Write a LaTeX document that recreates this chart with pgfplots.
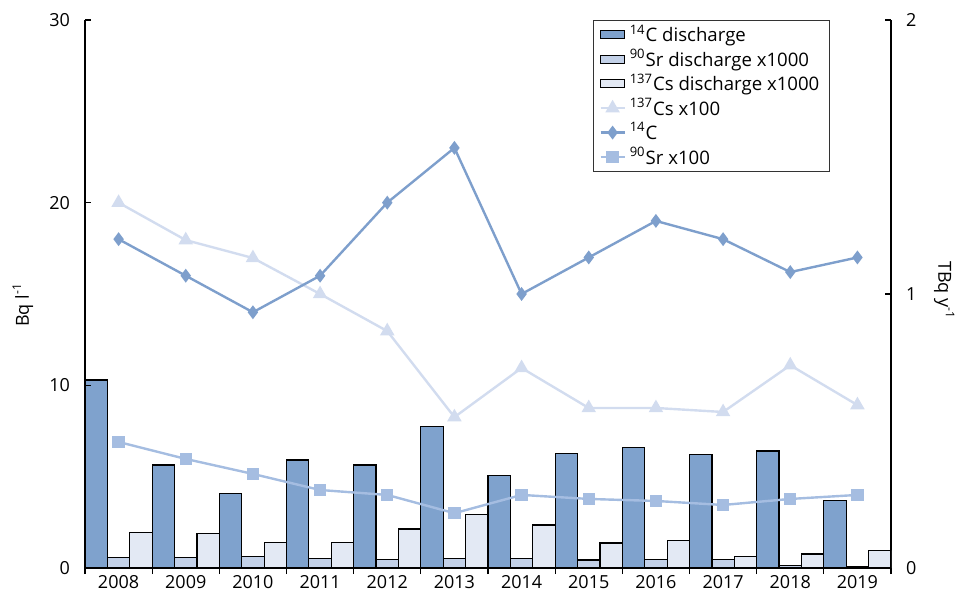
\documentclass[border=0pt]{standalone}
\usepackage{pgfplots}
\pgfplotsset{compat=1.18}
\usepackage{fontspec}
\setmainfont{Open Sans}

\definecolor{barC}{HTML}{7FA2CD}
\definecolor{barSr}{HTML}{C3D1E8}
\definecolor{barCs}{HTML}{E3E9F4}
\definecolor{lnC}{HTML}{7E9FCC}
\definecolor{lnSr}{HTML}{A5BDE1}
\definecolor{lnCs}{HTML}{D2DCEF}

\begin{document}
\begin{tikzpicture}
\pgfplotsset{
  every axis/.append style={
    scale only axis, width=403pt, height=274pt,
    xmin=-0.5, xmax=11.5,
    font=\fontsize{9}{11}\selectfont,
    /pgf/number format/assume math mode=true,
    axis line style={line width=0.6pt},
    every tick/.style={black, line width=0.6pt},
  },
}

% x axis only
\begin{axis}[
  hide y axis, ymin=0, ymax=1,
  axis x line*=bottom,
  tick align=outside, major tick length=3pt,
  xtick={-0.5,0.5,...,11.5}, xticklabels={},
  extra x ticks={0,1,2,3,4,5,6,7,8,9,10,11},
  extra x tick labels={2008,2009,2010,2011,2012,2013,2014,2015,2016,2017,2018,2019},
  extra x tick style={major tick length=0pt},
]
\addplot[draw=none] coordinates {(0,0)};
\end{axis}

% discharges, TBq per year (right axis)
\begin{axis}[
  hide x axis,
  axis y line*=right,
  ymin=0, ymax=2, ytick={0,1,2},
  tick align=inside, major tick length=3pt,
  yticklabel style={xshift=4pt},
  ylabel={TBq y\textsuperscript{-1}},
  ylabel style={at={(axis description cs:1.066,0.507)}, anchor=center, rotate=180},
]
\addplot[ybar, bar width=0.3333, bar shift=-0.3333, fill=barC, draw=black, line width=0.6pt]
  coordinates {(0,0.686) (1,0.376) (2,0.273) (3,0.394) (4,0.376) (5,0.516)
               (6,0.338) (7,0.419) (8,0.441) (9,0.414) (10,0.427) (11,0.246)};
\addplot[ybar, bar width=0.3333, bar shift=0, fill=barSr, draw=black, line width=0.6pt]
  coordinates {(0,0.038) (1,0.038) (2,0.041) (3,0.034) (4,0.032) (5,0.036)
               (6,0.034) (7,0.029) (8,0.030) (9,0.032) (10,0.010) (11,0.004)};
\addplot[ybar, bar width=0.3333, bar shift=0.3333, fill=barCs, draw=black, line width=0.6pt]
  coordinates {(0,0.131) (1,0.125) (2,0.093) (3,0.094) (4,0.142) (5,0.196)
               (6,0.157) (7,0.091) (8,0.101) (9,0.041) (10,0.051) (11,0.064)};
\end{axis}

% concentrations, Bq per litre (left axis)
\begin{axis}[
  hide x axis,
  axis y line*=left,
  ymin=0, ymax=30, ytick={0,10,20,30},
  tick align=inside, major tick length=3pt,
  yticklabel style={xshift=-4pt},
  ylabel={Bq l\textsuperscript{-1}},
  ylabel style={at={(axis description cs:-0.077,0.48)}, anchor=center},
  legend style={at={(rel axis cs:0.63,1)}, anchor=north west,
    draw=black!80, line width=0.6pt, font=\fontsize{9.3}{10}\selectfont,
    row sep=0pt, inner xsep=3pt, inner ysep=1pt,
    nodes={inner ysep=1.1pt}},
  legend cell align=left,
  legend image code/.code={
    \draw[mark repeat=2, mark phase=2, #1] plot coordinates {(0pt,0pt) (6pt,0pt) (12pt,0pt)};},
]
\addlegendimage{legend image code/.code={\draw[fill=barC, draw=black, line width=0.6pt] (0pt,-2pt) rectangle (12pt,2pt);}}
\addlegendentry{\textsuperscript{14}C discharge}
\addlegendimage{legend image code/.code={\draw[fill=barSr, draw=black, line width=0.6pt] (0pt,-2pt) rectangle (12pt,2pt);}}
\addlegendentry{\textsuperscript{90}Sr discharge x1000}
\addlegendimage{legend image code/.code={\draw[fill=barCs, draw=black, line width=0.6pt] (0pt,-2pt) rectangle (12pt,2pt);}}
\addlegendentry{\textsuperscript{137}Cs discharge x1000}

\addplot[color=lnCs, line width=1.2pt, mark=triangle*, mark size=3pt]
  coordinates {(0,20.0) (1,17.95) (2,16.97) (3,15.0) (4,12.97) (5,8.26)
               (6,10.95) (7,8.76) (8,8.76) (9,8.54) (10,11.1) (11,8.92)};
\addlegendentry{\textsuperscript{137}Cs x100}
\addplot[color=lnC, line width=1.2pt, mark=diamond*, mark size=2.5pt]
  coordinates {(0,18) (1,16) (2,14) (3,16) (4,20) (5,23)
               (6,15) (7,17) (8,19) (9,18) (10,16.2) (11,17)};
\addlegendentry{\textsuperscript{14}C}
\addplot[color=lnSr, line width=1.2pt, mark=square*, mark size=2.5pt]
  coordinates {(0,6.9) (1,5.97) (2,5.15) (3,4.27) (4,4.0) (5,3.0)
               (6,4.0) (7,3.78) (8,3.67) (9,3.45) (10,3.78) (11,4.0)};
\addlegendentry{\textsuperscript{90}Sr x100}
\end{axis}

\pgfresetboundingbox
\path[use as bounding box] (-42.5pt,-12.5pt) rectangle (435.5pt,284pt);
\end{tikzpicture}
\end{document}
